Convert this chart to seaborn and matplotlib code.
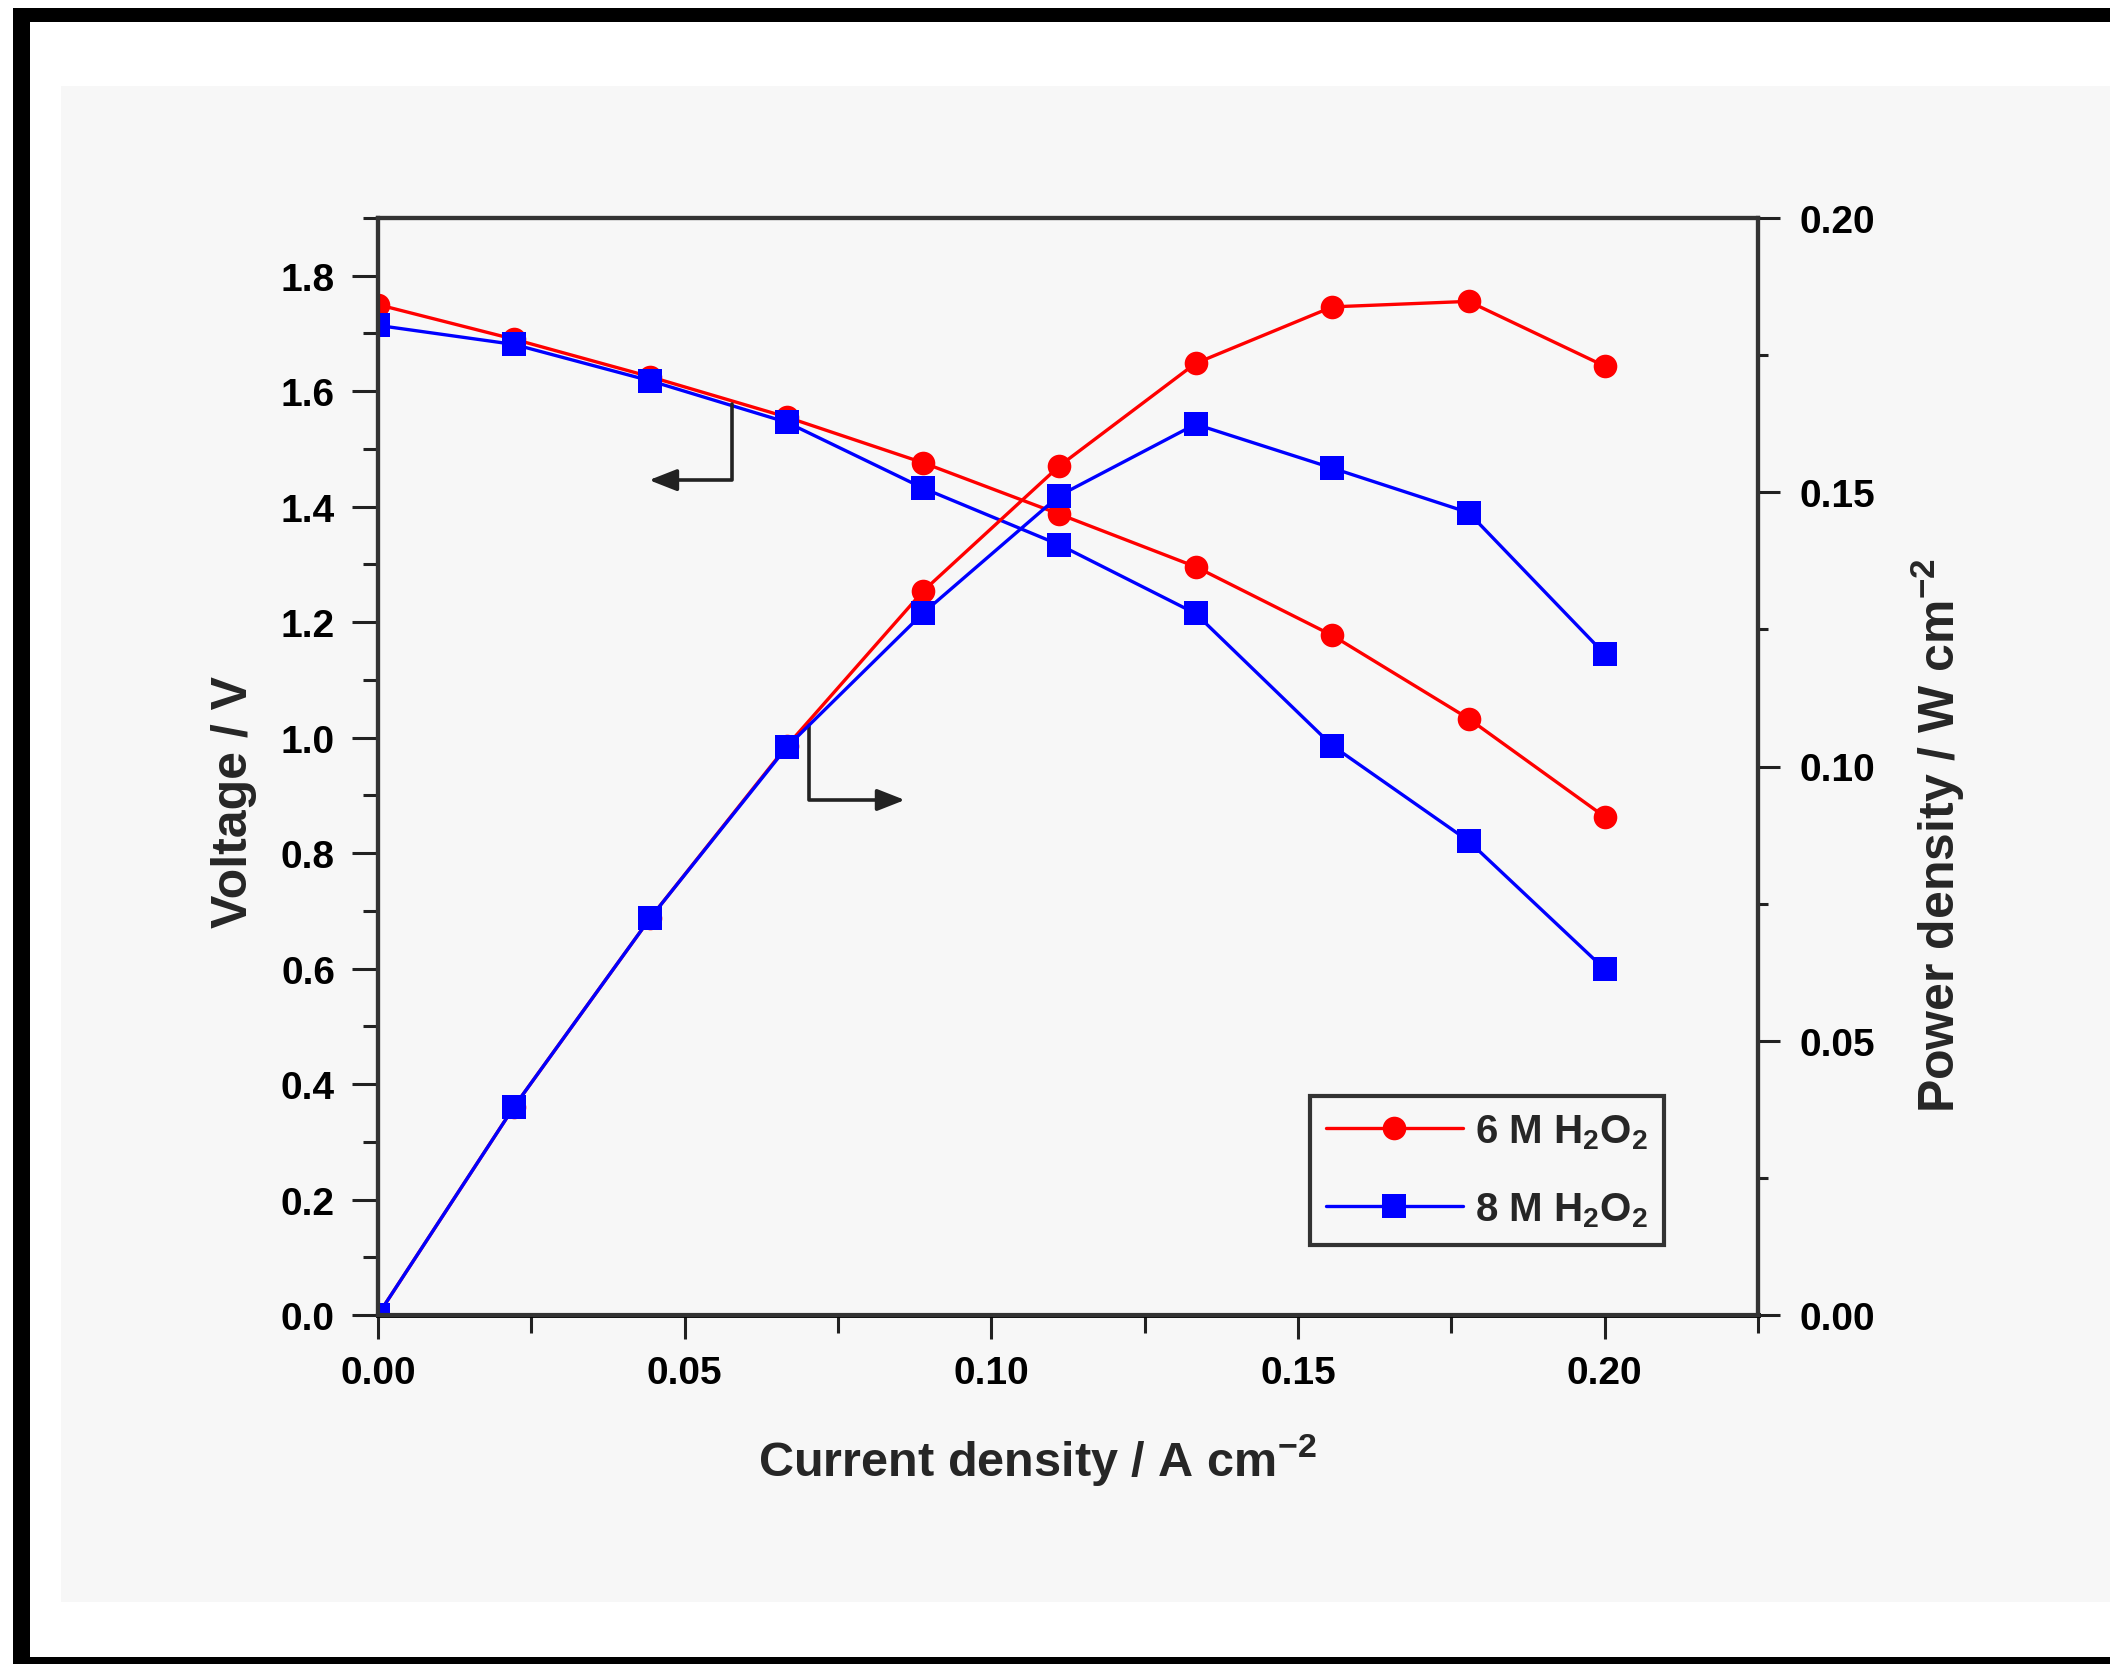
import matplotlib
matplotlib.use("Agg")
import matplotlib.pyplot as plt
import seaborn as sns
import pandas as pd
from matplotlib.patches import Rectangle
from matplotlib.ticker import MultipleLocator, FormatStrFormatter

# ---- data ----
current = [0.0, 0.0222, 0.0444, 0.0667, 0.0889, 0.1111, 0.1333, 0.1556, 0.1778, 0.2000]
volt_6M = [1.750, 1.690, 1.625, 1.555, 1.476, 1.387, 1.296, 1.177, 1.033, 0.863]
volt_8M = [1.714, 1.681, 1.618, 1.546, 1.432, 1.334, 1.215, 0.986, 0.821, 0.599]
power_6M = [0.0, 0.038, 0.0724, 0.1038, 0.132, 0.1548, 0.1735, 0.1838, 0.1848, 0.173]
power_8M = [0.0, 0.038, 0.0724, 0.1036, 0.128, 0.1494, 0.1624, 0.1544, 0.1463, 0.1205]
series_labels = ["6 M H$_2$O$_2$", "8 M H$_2$O$_2$"]
series_colors = ["#ff0000", "#0000ff"]
series_markers = ["o", "s"]

sns.set_theme(style="ticks")
plt.rcParams["font.family"] = ["Liberation Sans", "DejaVu Sans"]
plt.rcParams["font.weight"] = "bold"
plt.rcParams["axes.labelweight"] = "bold"
plt.rcParams["mathtext.fontset"] = "custom"
plt.rcParams["mathtext.rm"] = "Liberation Sans:bold"
plt.rcParams["mathtext.bf"] = "Liberation Sans:bold"
plt.rcParams["mathtext.it"] = "Liberation Sans:bold"
plt.rcParams["mathtext.default"] = "bf"

W, H = 2110, 1665
fig = plt.figure(figsize=(W / 100, H / 100), dpi=100, facecolor="white")

# background panel and frame bands
fig.patches.append(Rectangle((61 / W, 1 - 1603 / H), (W - 61) / W, (1603 - 87) / H,
                             transform=fig.transFigure, facecolor="#f7f7f7",
                             edgecolor="none", zorder=-2))
for (x0, y0, x1, y1) in [(13, 9, W, 23), (13, 9, 30, H), (13, 1658, W, H)]:
    fig.patches.append(Rectangle((x0 / W, 1 - y1 / H), (x1 - x0) / W, (y1 - y0) / H,
                                 transform=fig.transFigure, facecolor="black",
                                 edgecolor="none", zorder=-1))

ax1 = fig.add_axes([378 / W, 1 - 1316 / H, (1758 - 378) / W, (1316 - 219) / H])
ax1.set_facecolor("#f7f7f7")
ax2 = ax1.twinx()
ax2.patch.set_visible(False)

volts = [volt_6M, volt_8M]
powers = [power_6M, power_8M]
for v, c, m in zip(volts, series_colors, series_markers):
    sns.lineplot(x=current, y=v, ax=ax1, color=c, marker=m, markersize=17,
                 markeredgecolor=c, markeredgewidth=0, linewidth=2.4,
                 errorbar=None, legend=False)
for p, c, m in zip(powers, series_colors, series_markers):
    sns.lineplot(x=current, y=p, ax=ax2, color=c, marker=m, markersize=17,
                 markeredgecolor=c, markeredgewidth=0, linewidth=2.4,
                 errorbar=None, legend=False)

ax1.set_xlim(0, 0.225)
ax1.set_ylim(0, 1.9)
ax2.set_ylim(0, 0.20)

ax1.xaxis.set_major_locator(MultipleLocator(0.05))
ax1.xaxis.set_minor_locator(MultipleLocator(0.025))
ax1.xaxis.set_major_formatter(FormatStrFormatter("%.2f"))
ax1.yaxis.set_major_locator(MultipleLocator(0.2))
ax1.yaxis.set_minor_locator(MultipleLocator(0.1))
ax1.yaxis.set_major_formatter(FormatStrFormatter("%.1f"))
ax2.yaxis.set_major_locator(MultipleLocator(0.05))
ax2.yaxis.set_minor_locator(MultipleLocator(0.025))
ax2.yaxis.set_major_formatter(FormatStrFormatter("%.2f"))

for ax in (ax1, ax2):
    for s in ax.spines.values():
        s.set_linewidth(3)
        s.set_color("#333333")
        s.set_visible(True)
ax1.spines["bottom"].set_color("black")
ax1.spines["bottom"].set_linewidth(3.5)

ax1.tick_params(axis="x", which="major", direction="out", length=17, width=2.2,
                labelsize=28, pad=12, colors="#222222", top=False)
ax1.tick_params(axis="x", which="minor", direction="out", length=13, width=2.2,
                colors="#222222", top=False)
ax1.tick_params(axis="y", which="major", direction="out", length=19, width=2.2,
                labelsize=28, pad=12, colors="#222222", right=False)
ax1.tick_params(axis="y", which="minor", direction="out", length=11, width=2.2,
                colors="#222222", right=False)
ax2.tick_params(axis="y", which="major", direction="out", length=16, width=2.2,
                labelsize=28, pad=14, colors="#222222", left=False)
ax2.tick_params(axis="y", which="minor", direction="out", length=7, width=2.2,
                colors="#222222", left=False)
for lab in ax1.get_xticklabels() + ax1.get_yticklabels() + ax2.get_yticklabels():
    lab.set_color("black")

ax1.set_xlabel("Current density / A cm$^{-2}$", fontsize=35)
ax1.set_ylabel("Voltage / V", fontsize=36)
ax2.set_ylabel("Power density / W cm$^{-2}$", fontsize=36)
ax1.xaxis.set_label_coords(0.478, -0.106)
ax1.yaxis.set_label_coords(-0.088, 0.4686)
ax2.yaxis.set_label_coords(1.109, 0.4376)

# direction arrows
arrow_kw = dict(arrowstyle="-|>,head_length=1.4,head_width=0.55", color="#222222",
                lw=2.6, shrinkA=0, shrinkB=0,
                connectionstyle="angle,angleA=90,angleB=0,rad=0")
ax1.annotate("", xy=(0.0442, 1.446), xytext=(0.0577, 1.578), arrowprops=arrow_kw)
ax1.annotate("", xy=(0.0859, 0.892), xytext=(0.0702, 1.022), arrowprops=arrow_kw)

handles = ax2.get_lines()[:2]
leg = ax2.legend(handles, series_labels, loc="upper left",
                 bbox_to_anchor=(0.675, 0.1996), bbox_transform=ax2.transAxes,
                 fontsize=29, handlelength=3.4, handletextpad=0.3,
                 labelspacing=0.98, borderpad=0.4, borderaxespad=0,
                 fancybox=False, framealpha=1, facecolor="#f7f7f7",
                 edgecolor="#333333")
leg.get_frame().set_linewidth(3)

fig.savefig("out.png", dpi=100, facecolor="white")
